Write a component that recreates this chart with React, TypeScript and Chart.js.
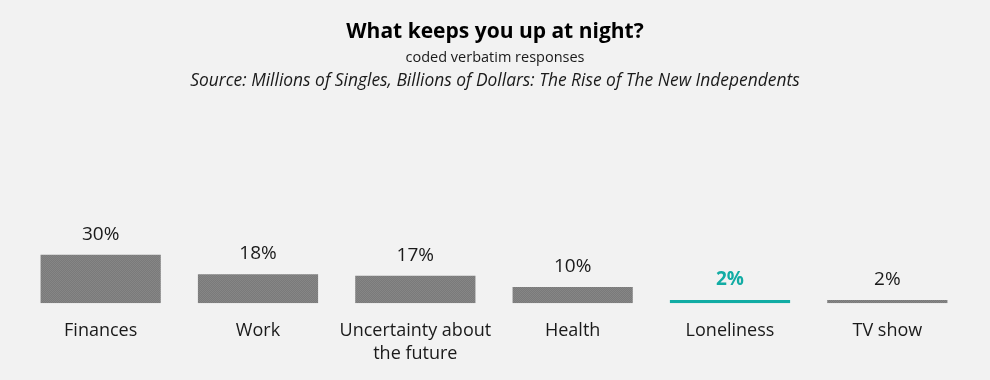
import React, { useEffect, useRef } from "react";
import { Chart, registerables } from "chart.js";

Chart.register(...registerables);

const categories: (string | string[])[] = [
  "Finances",
  "Work",
  ["Uncertainty about", "the future"],
  "Health",
  "Loneliness",
  "TV show",
];
const values: number[] = [30, 18, 17, 10, 2, 2];
const highlightIndex = 4;
const titleText = "What keeps you up at night?";
const subtitleText = "coded verbatim responses";
const sourceText = "Source: Millions of Singles, Billions of Dollars: The Rise of The New Independents";

const FONT = "'Open Sans'";
const GRAY = "#7f7f7f";
const TEAL = "#12aca4";

function makePattern(): CanvasPattern | string {
  const c = document.createElement("canvas");
  c.width = 2;
  c.height = 2;
  const g = c.getContext("2d");
  if (!g) return GRAY;
  g.fillStyle = "#7a7a7a";
  g.fillRect(0, 0, 2, 2);
  g.fillStyle = "#868686";
  g.fillRect(0, 0, 1, 1);
  g.fillRect(1, 1, 1, 1);
  const p = g.createPattern(c, "repeat");
  return p || GRAY;
}

export default function App() {
  const ref = useRef<HTMLCanvasElement>(null);
  useEffect(() => {
    if (!ref.current) return;
    const pattern = makePattern();
    const colors = values.map((_, i) => (i === highlightIndex ? TEAL : pattern));

    const textPlugin = {
      id: "texts",
      afterDatasetsDraw(chart: any) {
        const ctx = chart.ctx;
        ctx.save();
        ctx.textAlign = "center";
        ctx.textBaseline = "middle";
        ctx.fillStyle = "#000";
        ctx.font = `bold 21px ${FONT}`;
        ctx.fillText(titleText, 495, 32);
        ctx.font = `14.5px ${FONT}`;
        ctx.fillStyle = "#1a1a1a";
        ctx.fillText(subtitleText, 495, 58);
        ctx.font = `italic 17.4px ${FONT}`;
        ctx.fillText(sourceText, 495, 81);
        const meta = chart.getDatasetMeta(0);
        meta.data.forEach((bar: any, i: number) => {
          const hl = i === highlightIndex;
          ctx.font = `${hl ? "bold " : ""}19px ${FONT}`;
          ctx.fillStyle = hl ? TEAL : "#1a1a1a";
          ctx.textBaseline = "alphabetic";
          ctx.fillText(values[i] + "%", bar.x, bar.y - 15);
        });
        ctx.restore();
      },
    };

    const chart = new Chart(ref.current, {
      type: "bar",
      data: {
        labels: categories,
        datasets: [
          {
            data: values,
            backgroundColor: colors as any,
            borderWidth: 0,
            barPercentage: 0.764,
            categoryPercentage: 1,
          },
        ],
      },
      options: {
        animation: false,
        responsive: false,
        maintainAspectRatio: false,
        layout: { padding: { top: 142, left: 22, right: 24, bottom: 0 } },
        plugins: {
          legend: { display: false },
          tooltip: { enabled: false },
          title: { display: false },
        },
        scales: {
          x: {
            grid: { display: false, drawTicks: false },
            border: { display: false },
            ticks: {
              color: "#1a1a1a",
              font: { family: FONT, size: 18, lineHeight: 1.3 },
              padding: 16,
              maxRotation: 0,
              autoSkip: false,
            },
          },
          y: {
            display: false,
            min: 0,
            max: 100,
          },
        },
      },
      plugins: [textPlugin],
    });
    return () => chart.destroy();
  }, []);

  return (
    <div
      style={{
        position: "fixed",
        left: 0,
        top: 0,
        width: 990,
        height: 380,
        overflow: "hidden",
        background: "#f2f2f2",
      }}
    >
      <canvas ref={ref} width={990} height={382} style={{ display: "block" }} />
    </div>
  );
}
